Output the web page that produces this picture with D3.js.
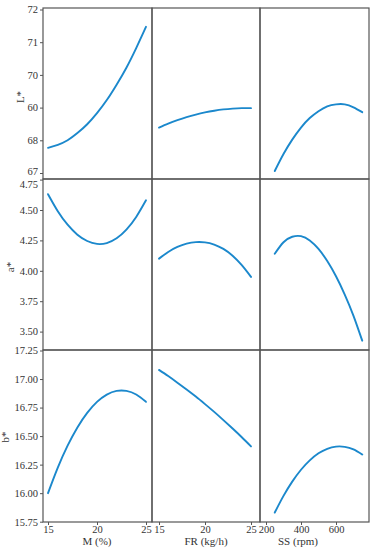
<!DOCTYPE html>
<html><head><meta charset="utf-8">
<script src="https://cdn.jsdelivr.net/npm/d3@7"></script>
<style>
html,body{margin:0;padding:0;background:#fff;}
svg{display:block;}
</style></head>
<body><svg id="c" width="373" height="550"></svg>
<script>
// ---- data ----
const M = [15,16,17,18,19,20,21,22,23,24,25];
const FR = [15,16,17,18,19,20,21,22,23,24,25];
const SS = [250,300,350,400,450,500,550,600,650,700,750];

const L_M  = [67.77,67.86,68.00,68.22,68.49,68.83,69.23,69.70,70.22,70.82,71.47];
const L_FR = [68.39,68.509,68.614,68.707,68.786,68.852,68.904,68.944,68.970,68.983,68.983];
const L_SS = [67.06,67.58,68.02,68.39,68.68,68.89,69.04,69.10,69.10,69.01,68.86];

const a_M  = [4.63,4.490,4.379,4.297,4.245,4.221,4.228,4.267,4.339,4.443,4.58];
const a_FR = [4.10,4.155,4.196,4.223,4.236,4.234,4.216,4.180,4.124,4.046,3.95];
const a_SS = [4.14,4.235,4.28,4.285,4.25,4.18,4.08,3.955,3.805,3.63,3.425];

const b_M  = [16.00,16.224,16.416,16.576,16.704,16.80,16.864,16.896,16.896,16.864,16.80];
const b_FR = [17.08,17.026,16.968,16.908,16.846,16.78,16.712,16.640,16.566,16.490,16.41];
const b_SS = [15.83,15.976,16.101,16.205,16.287,16.349,16.389,16.408,16.406,16.383,16.338];

const xTicksM = [15,20,25];
const xTicksFR = [15,20,25];
const xTicksSS = [200,400,600];
const yTicksL = [67,68,69,70,71,72];
const yTickLabelsL = ["67","68","60","70","71","72"];
const yTicksA = [3.50,3.75,4.00,4.25,4.50,4.75];
const yTicksB = [15.75,16.00,16.25,16.50,16.75,17.00,17.25];

const xTitles = ["M (%)","FR (kg/h)","SS (rpm)"];
const yTitles = ["L*","a*","b*"];

// ---- layout ----
const colEdges = [43,152,260,369];
const rowEdges = [8,179,350,522];
const blue = "#1b88cc";
const frame = "#555";
const font = "'Liberation Serif','DejaVu Serif',serif";

const svg = d3.select("#c");

const xScales = [
  d3.scaleLinear().domain([15,25]).range([48,146]),
  d3.scaleLinear().domain([15,25]).range([159,251]),
  d3.scaleLinear().domain([200,600]).range([266,336])
];
const yScales = [
  d3.scaleLinear().domain([67,72]).range([173,9.5]),
  d3.scaleLinear().domain([3.5,4.75]).range([331.6,179.6]),
  d3.scaleLinear().domain([15.75,17.25]).range([521.7,350.5])
];
const xData = [M,FR,SS];
const yData = [[L_M,L_FR,L_SS],[a_M,a_FR,a_SS],[b_M,b_FR,b_SS]];

// clip paths
const defs = svg.append("defs");
for(let r=0;r<3;r++) for(let c=0;c<3;c++){
  defs.append("clipPath").attr("id",`cp${r}${c}`).append("rect")
    .attr("x",colEdges[c]).attr("y",rowEdges[r])
    .attr("width",colEdges[c+1]-colEdges[c]).attr("height",rowEdges[r+1]-rowEdges[r]);
}

// curves
for(let r=0;r<3;r++) for(let c=0;c<3;c++){
  const xs = xData[c], ys = yData[r][c];
  const line = d3.line().curve(d3.curveNatural)
    .x((d,i)=>xScales[c](xs[i])).y(d=>yScales[r](d));
  svg.append("path").datum(ys)
    .attr("clip-path",`url(#cp${r}${c})`)
    .attr("d",line).attr("fill","none").attr("stroke",blue)
    .attr("stroke-width",1.9).attr("stroke-linecap","round");
}

// frames
for(let r=0;r<3;r++) for(let c=0;c<3;c++){
  svg.append("rect")
    .attr("x",colEdges[c]).attr("y",rowEdges[r])
    .attr("width",colEdges[c+1]-colEdges[c]).attr("height",rowEdges[r+1]-rowEdges[r])
    .attr("fill","none").attr("stroke",frame).attr("stroke-width",1.2);
}

// y axes
const yTickSets = [yTicksL,yTicksA,yTicksB];
const yFmt = [
  (d,i)=>yTickLabelsL[i],
  d3.format(".2f"),
  d3.format(".2f")
];
for(let r=0;r<3;r++){
  const ax = d3.axisLeft(yScales[r]).tickValues(yTickSets[r]).tickFormat(yFmt[r])
    .tickSize(3).tickPadding(2);
  const g = svg.append("g").attr("transform",`translate(${colEdges[0]},0)`).call(ax);
  g.select(".domain").remove();
  g.selectAll(".tick line").attr("stroke","#555");
  g.selectAll("text").attr("font-family",font).attr("font-size","10.5px").attr("fill","#333");
  if(r===1){
    g.selectAll(".tick").filter(d=>d===4.75).select("text").attr("dy","0.75em");
  }
  if(r===0){
    g.selectAll(".tick").filter(d=>d===67).select("text").attr("dy","0.1em");
  }
}

// x axes
const xTickSets = [xTicksM,xTicksFR,xTicksSS];
for(let c=0;c<3;c++){
  const ax = d3.axisBottom(xScales[c]).tickValues(xTickSets[c]).tickFormat(d3.format("d"))
    .tickSize(3).tickPadding(1);
  const g = svg.append("g").attr("transform",`translate(0,${rowEdges[3]})`).call(ax);
  g.select(".domain").remove();
  g.selectAll(".tick line").attr("stroke","#555");
  g.selectAll("text").attr("font-family",font).attr("font-size","10.5px").attr("fill","#333");
}

// x titles
const xTitlePos = [97,206,298];
xTitles.forEach((t,i)=>{
  svg.append("text").attr("x",xTitlePos[i]).attr("y",545)
    .attr("text-anchor","middle").attr("font-family",font).attr("font-size","11px")
    .attr("fill","#333").text(t);
});

// y titles
const yTitlePos = [[24,97],[14,267],[9,437]];
yTitles.forEach((t,i)=>{
  svg.append("text")
    .attr("transform",`translate(${yTitlePos[i][0]},${yTitlePos[i][1]}) rotate(-90)`)
    .attr("text-anchor","middle").attr("font-family",font).attr("font-size","11px")
    .attr("fill","#333").text(t);
});
</script>
</body></html>
